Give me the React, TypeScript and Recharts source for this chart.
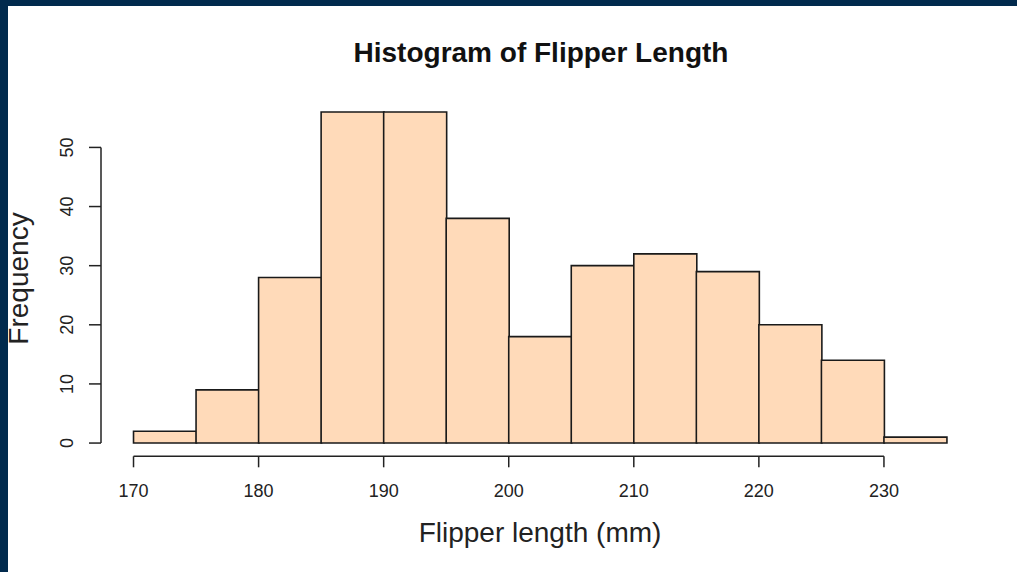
import React from 'react';
import { ComposedChart, Bar, XAxis, YAxis, ReferenceLine } from 'recharts';

const binStarts = [170, 175, 180, 185, 190, 195, 200, 205, 210, 215, 220, 225, 230];
const counts = [2, 9, 28, 56, 56, 38, 18, 30, 32, 29, 20, 14, 1];
const xTicks = [170, 180, 190, 200, 210, 220, 230];
const yTicks = [0, 10, 20, 30, 40, 50];

const binWidth = 5;
const data = binStarts.map((s, i) => ({ mid: s + binWidth / 2, count: counts[i] }));

// R pads the axis ranges by 4%
const xMin = binStarts[0];
const xMax = binStarts[binStarts.length - 1] + binWidth;
const xPad = (xMax - xMin) * 0.04;
const yMaxData = Math.max(...counts);
const yPad = yMaxData * 0.04;

const FONT = '"Liberation Sans", Arial, Helvetica, sans-serif';

const XTick = (props: any) => {
  const { x, y, payload } = props;
  return (
    <text x={x} y={y + 30} textAnchor="middle" fontSize={18} fontFamily={FONT} fill="#222">
      {payload.value}
    </text>
  );
};

const YTick = (props: any) => {
  const { x, y, payload } = props;
  const bx = x - 14;
  return (
    <text
      x={bx}
      y={y}
      transform={`rotate(-90, ${bx}, ${y})`}
      textAnchor="middle"
      fontSize={18}
      fontFamily={FONT}
      fill="#222"
    >
      {payload.value}
    </text>
  );
};

export default function App() {
  return (
    <div style={{ position: 'absolute', left: 0, top: 0, width: 1017, height: 572, background: '#012a4d' }}>
      <div style={{ position: 'absolute', left: 8, top: 6, width: 1009, height: 566, background: '#fff' }}>
        <div
          style={{
            position: 'absolute',
            left: 0,
            width: 1066,
            top: 32,
            textAlign: 'center',
            fontFamily: FONT,
            fontWeight: 'bold',
            fontSize: 28,
            lineHeight: '30px',
            color: '#111',
          }}
        >
          Histogram of Flipper Length
        </div>
        <ComposedChart
          width={1009}
          height={566}
          data={data}
          margin={{ top: 92.7, right: 38, bottom: 75.7, left: 33 }}
          barCategoryGap={0}
          barGap={0}
          style={{ overflow: 'visible' }}
        >
          <XAxis
            type="number"
            dataKey="mid"
            domain={[xMin - xPad, xMax + xPad]}
            ticks={xTicks}
            allowDataOverflow
            height={40}
            axisLine={false}
            tickLine={{ stroke: '#222', strokeWidth: 1.5 }}
            tickSize={11}
            tickMargin={0}
            tick={<XTick />}
            interval={0}
            label={{
              content: (p: any) => (
                <text
                  x={p.viewBox.x + p.viewBox.width / 2}
                  y={p.viewBox.y + 86}
                  textAnchor="middle"
                  fontSize={28}
                  fontFamily={FONT}
                  fill="#222"
                >
                  Flipper length (mm)
                </text>
              ),
            }}
          />
          <YAxis
            type="number"
            domain={[-yPad, yMaxData + yPad]}
            ticks={yTicks}
            allowDataOverflow
            width={60}
            axisLine={false}
            tickLine={{ stroke: '#222', strokeWidth: 1.5 }}
            tickSize={12}
            tickMargin={2}
            tick={<YTick />}
            interval={0}
            label={{
              content: (p: any) => {
                const cx = 20;
                const cy = p.viewBox.y + p.viewBox.height / 2 + 1;
                return (
                  <text
                    x={cx}
                    y={cy}
                    transform={`rotate(-90, ${cx}, ${cy})`}
                    textAnchor="middle"
                    fontSize={28}
                    fontFamily={FONT}
                    fill="#222"
                  >
                    Frequency
                  </text>
                );
              },
            }}
          />
          <Bar dataKey="count" fill="#FFDAB9" stroke="#1a1a1a" strokeWidth={1.6} isAnimationActive={false} />
          <ReferenceLine
            segment={[
              { x: xTicks[0], y: -yPad },
              { x: xTicks[xTicks.length - 1], y: -yPad },
            ]}
            stroke="#222"
            strokeWidth={1.5}
            ifOverflow="visible"
          />
          <ReferenceLine
            segment={[
              { x: xMin - xPad, y: yTicks[0] },
              { x: xMin - xPad, y: yTicks[yTicks.length - 1] },
            ]}
            stroke="#222"
            strokeWidth={1.5}
            ifOverflow="visible"
          />
        </ComposedChart>
      </div>
    </div>
  );
}
